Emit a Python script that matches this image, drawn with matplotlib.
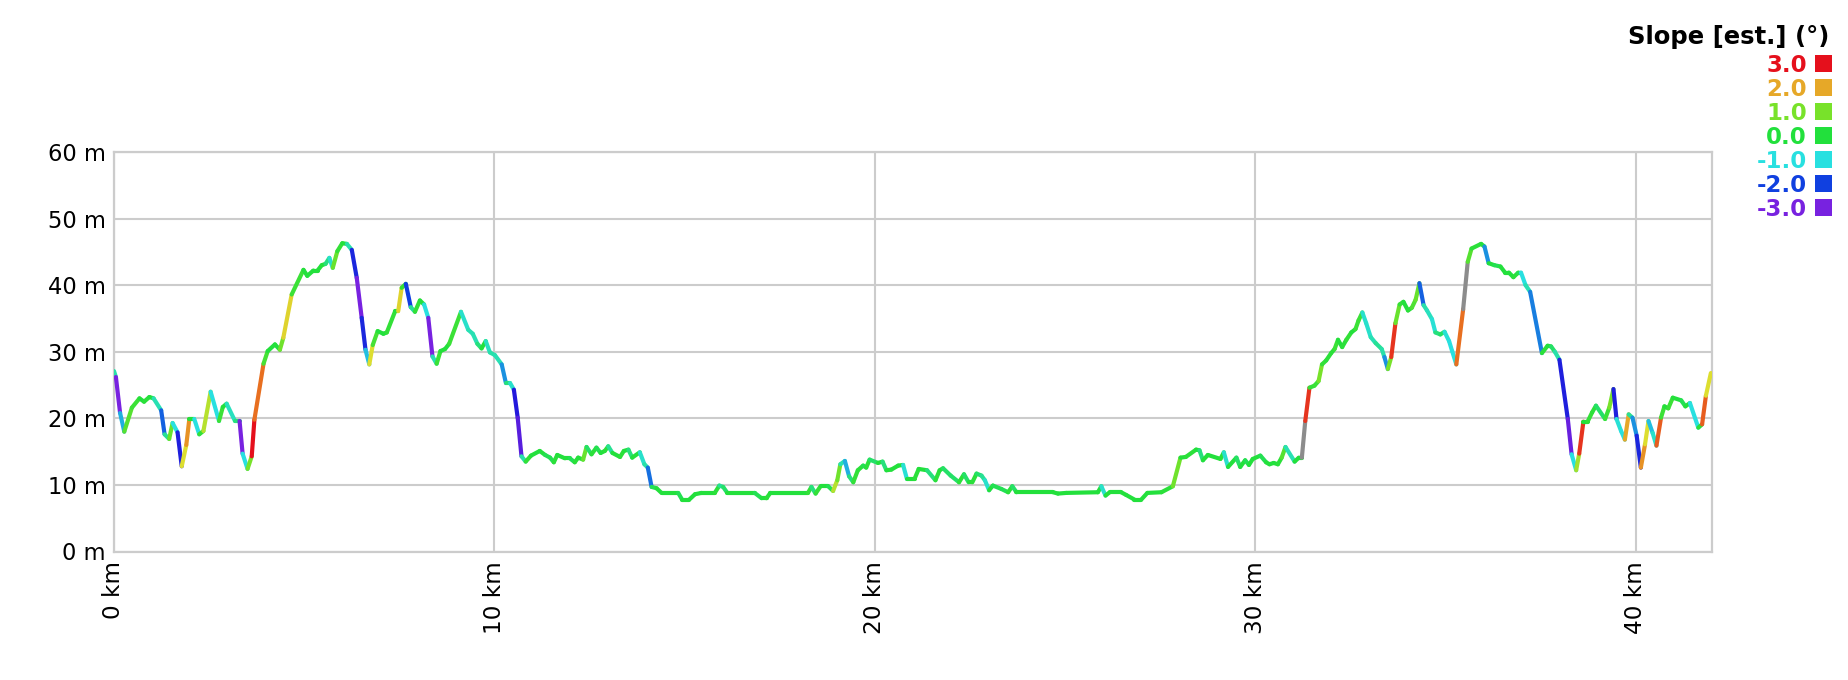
import numpy as np
import matplotlib
matplotlib.use("Agg")
import matplotlib.pyplot as plt
from matplotlib.collections import LineCollection
from matplotlib.colors import LinearSegmentedColormap, Normalize
from matplotlib.patches import Rectangle

# ---------------- data ----------------
dist_km = [
    0.00, 0.05, 0.16, 0.27, 0.47, 0.67, 0.79, 0.93, 1.04, 1.24,
    1.33, 1.45, 1.54, 1.67, 1.78, 1.90, 1.98, 2.11, 2.24, 2.35,
    2.54, 2.76, 2.86, 2.96, 3.18, 3.30, 3.38, 3.51, 3.62, 3.69,
    3.93, 4.04, 4.23, 4.36, 4.45, 4.67, 4.98, 5.08, 5.24, 5.35,
    5.46, 5.56, 5.66, 5.75, 5.87, 6.00, 6.12, 6.25, 6.38, 6.51,
    6.61, 6.71, 6.80, 6.93, 7.08, 7.17, 7.39, 7.47, 7.56, 7.67,
    7.80, 7.91, 8.04, 8.15, 8.26, 8.37, 8.48, 8.58, 8.70, 8.81,
    9.12, 9.31, 9.43, 9.55, 9.66, 9.77, 9.88, 10.01, 10.19, 10.30,
    10.41, 10.51, 10.61, 10.71, 10.82, 10.96, 11.19, 11.33, 11.46, 11.56,
    11.65, 11.85, 11.98, 12.11, 12.20, 12.33, 12.42, 12.55, 12.68, 12.79,
    12.90, 12.99, 13.10, 13.30, 13.40, 13.52, 13.62, 13.82, 13.94, 14.03,
    14.13, 14.26, 14.39, 14.83, 14.93, 15.12, 15.27, 15.44, 15.79, 15.91,
    16.01, 16.12, 16.84, 17.02, 17.15, 17.25, 18.24, 18.33, 18.44, 18.57,
    18.77, 18.90, 19.01, 19.09, 19.21, 19.32, 19.43, 19.55, 19.69, 19.77,
    19.86, 20.08, 20.20, 20.30, 20.43, 20.61, 20.74, 20.84, 21.04, 21.15,
    21.37, 21.59, 21.70, 21.79, 21.99, 22.21, 22.34, 22.46, 22.56, 22.67,
    22.80, 22.89, 23.00, 23.10, 23.32, 23.50, 23.61, 23.72, 24.68, 24.81,
    25.03, 25.86, 25.95, 26.06, 26.17, 26.47, 26.60, 26.82, 27.00, 27.16,
    27.53, 27.83, 28.03, 28.17, 28.44, 28.53, 28.62, 28.75, 29.08, 29.17,
    29.28, 29.50, 29.60, 29.73, 29.83, 29.93, 30.13, 30.28, 30.37, 30.48,
    30.59, 30.69, 30.79, 31.03, 31.14, 31.22, 31.31, 31.42, 31.55, 31.66,
    31.75, 31.86, 31.99, 32.08, 32.17, 32.28, 32.39, 32.52, 32.63, 32.71,
    32.81, 32.91, 33.03, 33.16, 33.32, 33.39, 33.48, 33.57, 33.68, 33.79,
    33.89, 34.01, 34.11, 34.21, 34.31, 34.42, 34.51, 34.64, 34.73, 34.86,
    34.97, 35.09, 35.17, 35.28, 35.46, 35.58, 35.68, 35.93, 36.02, 36.13,
    36.28, 36.44, 36.56, 36.66, 36.78, 36.91, 36.98, 37.10, 37.22, 37.53,
    37.68, 37.77, 37.87, 37.99, 38.21, 38.31, 38.43, 38.51, 38.62, 38.73,
    38.85, 38.95, 39.19, 39.30, 39.41, 39.49, 39.61, 39.71, 39.81, 39.91,
    40.02, 40.13, 40.24, 40.33, 40.44, 40.54, 40.66, 40.75, 40.85, 40.97,
    41.19, 41.30, 41.42, 41.64, 41.74, 41.84, 41.97,
]

elev_m = [
    27.1, 26.2, 20.8, 18.0, 21.6, 23.0, 22.5, 23.2, 23.0, 21.2,
    17.6, 16.9, 19.3, 17.9, 12.8, 16.0, 19.9, 19.9, 17.6, 18.1,
    24.0, 19.6, 21.7, 22.2, 19.6, 19.6, 14.7, 12.4, 14.3, 19.8,
    28.2, 30.1, 31.1, 30.3, 32.1, 38.6, 42.3, 41.4, 42.2, 42.2,
    43.0, 43.2, 44.1, 42.6, 45.1, 46.3, 46.2, 45.3, 41.1, 35.1,
    30.3, 28.1, 31.0, 33.1, 32.7, 32.9, 36.1, 36.1, 39.6, 40.2,
    36.7, 36.0, 37.7, 37.1, 35.1, 29.3, 28.2, 30.1, 30.4, 31.2,
    36.0, 33.3, 32.7, 31.2, 30.5, 31.6, 29.9, 29.5, 28.1, 25.3,
    25.3, 24.3, 20.1, 14.3, 13.5, 14.4, 15.1, 14.5, 14.1, 13.4,
    14.5, 14.0, 14.0, 13.4, 14.1, 13.8, 15.7, 14.6, 15.6, 14.8,
    15.1, 15.8, 14.8, 14.2, 15.1, 15.3, 14.1, 14.9, 13.1, 12.6,
    9.7, 9.5, 8.8, 8.8, 7.8, 7.8, 8.6, 8.8, 8.8, 9.9,
    9.7, 8.8, 8.8, 8.0, 8.0, 8.8, 8.8, 9.7, 8.7, 9.8,
    9.8, 9.1, 10.7, 13.1, 13.6, 11.3, 10.4, 12.2, 12.9, 12.6,
    13.8, 13.3, 13.5, 12.2, 12.3, 12.9, 13.0, 10.9, 10.9, 12.4,
    12.2, 10.7, 12.2, 12.5, 11.4, 10.4, 11.6, 10.4, 10.4, 11.7,
    11.4, 10.7, 9.2, 9.9, 9.4, 8.9, 9.8, 8.9, 8.9, 8.7,
    8.8, 8.9, 9.8, 8.4, 8.9, 8.9, 8.5, 7.8, 7.8, 8.8,
    8.9, 9.8, 14.1, 14.2, 15.3, 15.2, 13.7, 14.5, 13.9, 14.9,
    12.7, 14.1, 12.7, 13.7, 13.0, 13.9, 14.4, 13.4, 13.1, 13.3,
    13.1, 14.1, 15.7, 13.5, 14.1, 14.1, 19.6, 24.6, 24.9, 25.6,
    28.1, 28.7, 29.8, 30.4, 31.8, 30.7, 31.8, 32.9, 33.4, 34.7,
    35.9, 34.3, 32.2, 31.3, 30.4, 29.2, 27.4, 29.2, 34.3, 37.1,
    37.5, 36.2, 36.6, 37.8, 40.3, 37.0, 36.2, 34.9, 32.9, 32.6,
    33.0, 31.6, 30.1, 28.1, 36.4, 43.5, 45.5, 46.2, 45.8, 43.3,
    43.0, 42.8, 41.9, 41.9, 41.2, 41.9, 41.9, 40.0, 39.0, 29.8,
    30.9, 30.8, 30.0, 28.8, 19.9, 14.6, 12.2, 14.7, 19.5, 19.5,
    20.9, 21.9, 19.9, 21.6, 24.4, 19.9, 18.1, 16.8, 20.6, 20.1,
    17.4, 12.6, 16.1, 19.6, 17.8, 15.9, 20.1, 21.8, 21.5, 23.1,
    22.7, 21.8, 22.3, 18.6, 19.1, 23.4, 26.8,
]

# estimated slope (degrees) of each segment, as coloured in the reference;
# nan = segment drawn in grey
slope_deg = [
    -0.5, -3.0, -1.3, 0.6, 0.3, 0.0, 0.1, 0.0, -0.6, -1.8,
    -0.4, 0.8, -1.0, -2.4, 1.5, 2.2, 0.0, -1.0, 0.2, 1.3,
    -1.0, 0.3, 0.0, -0.7, -0.3, -3.0, -1.0, 1.0, 3.0, 2.5,
    0.4, 0.0, 0.0, 0.9, 1.6, 0.3, 0.0, 0.0, 0.0, 0.0,
    0.0, -0.3, -0.8, 0.8, 0.2, 0.0, -0.5, -2.3, -3.0, -2.3,
    -1.2, 1.5, 0.4, 0.0, 0.0, 0.2, 0.0, 1.6, 0.2, -2.0,
    -0.4, 0.2, 0.0, -1.0, -3.0, -0.6, 0.3, 0.0, 0.0, 0.3,
    -0.8, -0.6, -0.6, -0.3, 0.0, -0.7, -0.5, -0.6, -1.5, -0.3,
    -0.8, -2.5, -2.8, -0.5, 0.2, 0.0, 0.0, -0.1, -0.1, 0.1,
    0.0, 0.0, -0.1, 0.1, 0.0, 0.8, -0.2, 0.1, -0.1, 0.0,
    0.1, -0.4, 0.0, 0.1, 0.0, -0.3, 0.0, -0.8, -0.5, -1.7,
    -0.1, 0.0, 0.0, -0.1, 0.0, 0.0, 0.0, 0.0, 0.1, -0.4,
    -0.2, 0.0, -0.1, 0.0, 0.1, 0.0, 0.2, -0.3, 0.2, 0.0,
    -0.1, 1.3, 0.9, -0.6, -1.3, -0.3, 0.2, 0.1, -0.1, 0.1,
    -0.2, 0.0, -0.3, 0.0, 0.0, 0.0, -0.9, 0.0, 0.1, 0.0,
    -0.3, 0.1, 0.0, -0.2, -0.2, 0.1, -0.2, 0.0, 0.1, -0.2,
    -0.4, -0.8, 0.0, -0.1, -0.1, 0.1, -0.2, 0.0, 0.0, 0.0,
    0.0, 0.0, -0.8, 0.0, 0.0, 0.0, 0.0, 0.0, 0.0, 0.0,
    0.1, 0.9, 0.0, 0.1, 0.0, -0.3, 0.0, 0.0, 0.1, -0.8,
    0.0, -0.2, 0.0, -0.1, 0.0, 0.0, -0.1, 0.0, 0.0, 0.0,
    0.1, 0.6, -0.6, 0.0, 0.0, np.nan, 2.8, 0.2, 0.3, 1.0,
    0.2, 0.1, 0.1, 0.3, 0.0, 0.1, 0.2, 0.0, 0.3, 0.3,
    -0.8, -0.8, -0.6, -0.4, -0.5, -1.5, 1.0, 2.8, 0.8, 0.2,
    0.0, 0.1, 0.5, 0.8, -1.8, -0.5, -0.7, -0.9, -0.3, -0.2,
    -0.9, -1.0, -1.0, 2.5, np.nan, 0.6, 0.1, 0.0, -1.5, 0.0,
    -0.1, 0.0, 0.0, 0.0, 0.1, -0.1, -1.0, -0.6, -1.6, 0.1,
    0.0, -0.2, -0.5, -2.4, -2.9, -1.0, 1.2, 2.8, 0.0, 0.2,
    0.1, -0.2, 0.3, 1.0, -2.4, -0.9, -1.0, 2.0, -0.4, -1.5,
    -2.3, 2.2, 1.5, -1.2, -0.8, 2.6, 0.3, 0.0, 0.3, 0.0,
    -0.1, 0.0, -1.0, 0.1, 2.6, 1.5,
]

y_ticks = [0, 10, 20, 30, 40, 50, 60]
y_labels = ["0 m", "10 m", "20 m", "30 m", "40 m", "50 m", "60 m"]
x_ticks = [0, 10, 20, 30, 40]
x_labels = ["0 km", "10 km", "20 km", "30 km", "40 km"]

legend_title = "Slope [est.] (°)"
legend_values = [3.0, 2.0, 1.0, 0.0, -1.0, -2.0, -3.0]
legend_labels = ["3.0", "2.0", "1.0", "0.0", "-1.0", "-2.0", "-3.0"]
legend_colors = ["#e5101c", "#e6a828", "#78e22a", "#22e03c",
                 "#28e0e0", "#1040e0", "#7822e0"]

# colour scale for the slope
anchor_vals = [-3.0, -2.5, -2.0, -1.5, -1.0, -0.5, 0.0, 1.0, 1.5, 2.0, 2.5, 3.0]
anchor_cols = ["#7822e0", "#2218dc", "#1040e0", "#1a90e0", "#28e0e0", "#28e0a8",
               "#22e03c", "#78e22a", "#dde030", "#e6a828", "#e87020", "#e5101c"]

# ---------------- figure ----------------
W, H = 1848, 680
fig = plt.figure(figsize=(W / 100, H / 100), dpi=100)
fig.patch.set_facecolor("white")

ax_l, ax_r, ax_t, ax_b = 114, 1712, 152, 551.5
ax = fig.add_axes([ax_l / W, 1 - ax_b / H, (ax_r - ax_l) / W, (ax_b - ax_t) / H])

cmap = LinearSegmentedColormap.from_list(
    "slope", [((v + 3) / 6, c) for v, c in zip(anchor_vals, anchor_cols)])
cmap = cmap.with_extremes(bad="#8c8c8c")
norm = Normalize(vmin=-3, vmax=3)

pts = np.column_stack([dist_km, elev_m])
segs = np.stack([pts[:-1], pts[1:]], axis=1)
lc = LineCollection(segs, cmap=cmap, norm=norm, linewidths=3.0,
                    capstyle="round", joinstyle="round", zorder=3)
lc.set_array(np.ma.masked_invalid(np.array(slope_deg, dtype=float)))
ax.add_collection(lc)

ax.set_xlim(0, 42.0)
ax.set_ylim(0, 60)

grid_c = "#cccccc"
ax.set_xticks(x_ticks)
ax.set_xticklabels(x_labels, rotation=90, fontsize=16.7, va="top", ha="center")
ax.set_yticks(y_ticks)
ax.set_yticklabels(y_labels, fontsize=16.3)
ax.tick_params(axis="both", length=0, colors="black")
ax.tick_params(axis="y", pad=6)
ax.tick_params(axis="x", pad=7)
ax.grid(True, color=grid_c, linewidth=1.5, zorder=0)
ax.set_axisbelow(True)
for s in ax.spines.values():
    s.set_color(grid_c)
    s.set_linewidth(1.6)

# ---------------- legend ----------------
fig.text(1829 / W, 1 - 44 / H, legend_title, ha="right", va="baseline",
         fontsize=17.5, fontweight="bold", color="black")
for i, (lab, col) in enumerate(zip(legend_labels, legend_colors)):
    base = 71.7 + 24 * i
    fig.text(1807 / W, 1 - base / H, lab, ha="right", va="baseline",
             fontsize=16.5, fontweight="bold", color=col)
    fig.add_artist(Rectangle((1815 / W, 1 - base / H), 17 / W, 17 / H,
                             transform=fig.transFigure, facecolor=col,
                             edgecolor="none"))

fig.savefig("out.png", dpi=100, facecolor="white")
